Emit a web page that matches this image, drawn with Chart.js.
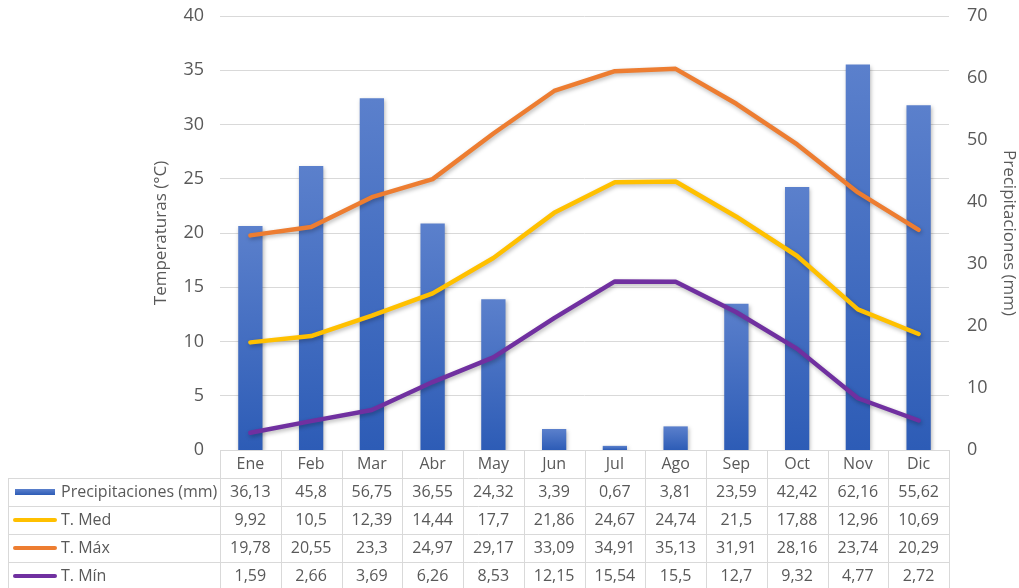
<!DOCTYPE html>
<html><head><meta charset="utf-8">
<script src="https://cdn.jsdelivr.net/npm/chart.js@4/dist/chart.umd.min.js"></script>
<style>html,body{margin:0;padding:0;background:#fff}#wrap{width:1019px;height:588px;position:relative}</style>
</head><body><div id="wrap"><canvas id="c" width="1019" height="588"></canvas></div>
<script>
const months = ['Ene','Feb','Mar','Abr','May','Jun','Jul','Ago','Sep','Oct','Nov','Dic'];
const precip = [36.13,45.8,56.75,36.55,24.32,3.39,0.67,3.81,23.59,42.42,62.16,55.62];
const tMed = [9.92,10.5,12.39,14.44,17.7,21.86,24.67,24.74,21.5,17.88,12.96,10.69];
const tMax = [19.78,20.55,23.3,24.97,29.17,33.09,34.91,35.13,31.91,28.16,23.74,20.29];
const tMin = [1.59,2.66,3.69,6.26,8.53,12.15,15.54,15.5,12.7,9.32,4.77,2.72];
const seriesNames = ['Precipitaciones (mm)','T. Med','T. Máx','T. Mín'];
const tempTicks = [0,5,10,15,20,25,30,35,40];
const precTicks = [0,10,20,30,40,50,60,70];

const FONT = '"Open Sans", "DejaVu Sans", sans-serif';
const TXT = '#595959', GRID = '#d9d9d9';
const COL_PREC = '#4472C4', COL_MED = '#FFC000', COL_MAX = '#ED7D31', COL_MIN = '#7030A0';
const TABLE_H = 138, ROW_H = 28, TABLE_LEFT = 8;

function barGrad(ctx){
  const chart = ctx.chart;
  if (!chart.chartArea || ctx.parsed == null) return COL_PREC;
  const ys = chart.scales.y1;
  const top = ys.getPixelForValue(ctx.parsed.y);
  const bot = ys.getPixelForValue(0);
  const g = chart.ctx.createLinearGradient(0, top, 0, bot + 0.01);
  g.addColorStop(0, '#5b80cc');
  g.addColorStop(1, '#2d5cb6');
  return g;
}

const shadowPlugin = {
  id: 'shadow',
  beforeDatasetDraw(chart, args){
    const c = chart.ctx; c.save();
    c.shadowColor = 'rgba(0,0,0,0.28)';
    c.shadowBlur = 4; c.shadowOffsetX = 1; c.shadowOffsetY = 2;
  },
  afterDatasetDraw(chart){ chart.ctx.restore(); }
};

const fmt = v => String(v).replace('.', ',');

const tablePlugin = {
  id: 'dataTable',
  afterDraw(chart){
    const c = chart.ctx, x = chart.scales.x, ca = chart.chartArea;
    const n = months.length, w = (ca.right - ca.left) / n;
    const y0 = ca.bottom;
    c.save();
    c.strokeStyle = GRID; c.lineWidth = 1;
    c.beginPath();
    c.moveTo(ca.left, y0 + 0.5); c.lineTo(ca.right, y0 + 0.5);
    for (let r = 1; r <= 4; r++){
      const yy = Math.round(y0 + r * ROW_H) + 0.5;
      c.moveTo(TABLE_LEFT, yy); c.lineTo(ca.right, yy);
    }
    for (let i = 0; i <= n; i++){
      const xx = Math.round(ca.left + i * w) + 0.5;
      c.moveTo(xx, y0); c.lineTo(xx, y0 + 5 * ROW_H);
    }
    c.moveTo(TABLE_LEFT + 0.5, y0 + ROW_H); c.lineTo(TABLE_LEFT + 0.5, y0 + 5 * ROW_H);
    c.stroke();

    c.fillStyle = TXT; c.font = '16px ' + FONT;
    c.textAlign = 'center'; c.textBaseline = 'middle';
    months.forEach((m, i) => c.fillText(m, x.getPixelForValue(i), y0 + ROW_H / 2));
    const rows = [precip, tMed, tMax, tMin];
    const cols = [COL_PREC, COL_MED, COL_MAX, COL_MIN];
    rows.forEach((arr, r) => {
      const yc = y0 + ROW_H * (r + 1) + ROW_H / 2;
      c.fillStyle = TXT; c.textAlign = 'center';
      arr.forEach((v, i) => c.fillText(fmt(v), x.getPixelForValue(i), yc));
      if (r === 0){
        const g = c.createLinearGradient(0, yc - 3, 0, yc + 3);
        g.addColorStop(0, '#5b80cc'); g.addColorStop(1, '#2d5cb6');
        c.fillStyle = g; c.fillRect(15, yc - 3, 40, 6);
      } else {
        c.strokeStyle = cols[r]; c.lineWidth = 4; c.lineCap = 'round';
        c.beginPath(); c.moveTo(15, yc); c.lineTo(55, yc); c.stroke();
      }
      c.fillStyle = TXT; c.textAlign = 'left';
      c.fillText(seriesNames[r], 61, yc);
    });
    c.restore();
  }
};

const lineDs = (label, data, color) => ({
  type: 'line', label, data, yAxisID: 'y', order: 0,
  borderColor: color, backgroundColor: color, borderWidth: 4.5,
  pointRadius: 0, pointHoverRadius: 0, tension: 0,
  borderCapStyle: 'round', borderJoinStyle: 'round', fill: false
});

new Chart(document.getElementById('c'), {
  data: {
    labels: months,
    datasets: [
      { type: 'bar', label: seriesNames[0], data: precip, yAxisID: 'y1', order: 1,
        backgroundColor: barGrad, barPercentage: 0.8, categoryPercentage: 0.5, borderWidth: 0 },
      lineDs(seriesNames[1], tMed, COL_MED),
      lineDs(seriesNames[2], tMax, COL_MAX),
      lineDs(seriesNames[3], tMin, COL_MIN)
    ]
  },
  options: {
    responsive: false, animation: false, devicePixelRatio: 1,
    layout: { padding: { top: 16, left: 143, right: 0, bottom: 0 } },
    plugins: { legend: { display: false }, tooltip: { enabled: false } },
    scales: {
      x: {
        grid: { display: false }, border: { display: false },
        ticks: { display: false },
        afterFit(s){ s.height = TABLE_H; }
      },
      y: {
        position: 'left', min: 0, max: 40,
        afterBuildTicks(s){ s.ticks = tempTicks.map(v => ({ value: v })); },
        grid: { color: GRID, drawTicks: false, lineWidth: 1 },
        border: { display: false },
        ticks: { color: TXT, font: { family: FONT, size: 18 }, padding: 16 },
        title: { display: true, text: 'Temperaturas (°C)', color: TXT,
                 font: { family: FONT, size: 17 }, padding: { top: 8, bottom: 0 } },
        afterFit(s){ s.width = 220 - 143; s.paddingTop = 0; s.paddingBottom = 0; }
      },
      y1: {
        position: 'right', min: 0, max: 70,
        afterBuildTicks(s){ s.ticks = precTicks.map(v => ({ value: v })); },
        grid: { display: false, drawTicks: false }, border: { display: false },
        ticks: { color: TXT, font: { family: FONT, size: 18 }, padding: 18 },
        title: { display: true, text: 'Precipitaciones (mm)', color: TXT,
                 font: { family: FONT, size: 17 }, padding: { top: 0, bottom: 0 } },
        afterFit(s){ s.width = 70; s.paddingTop = 0; s.paddingBottom = 0; }
      }
    }
  },
  plugins: [shadowPlugin, tablePlugin]
});
</script></body></html>
